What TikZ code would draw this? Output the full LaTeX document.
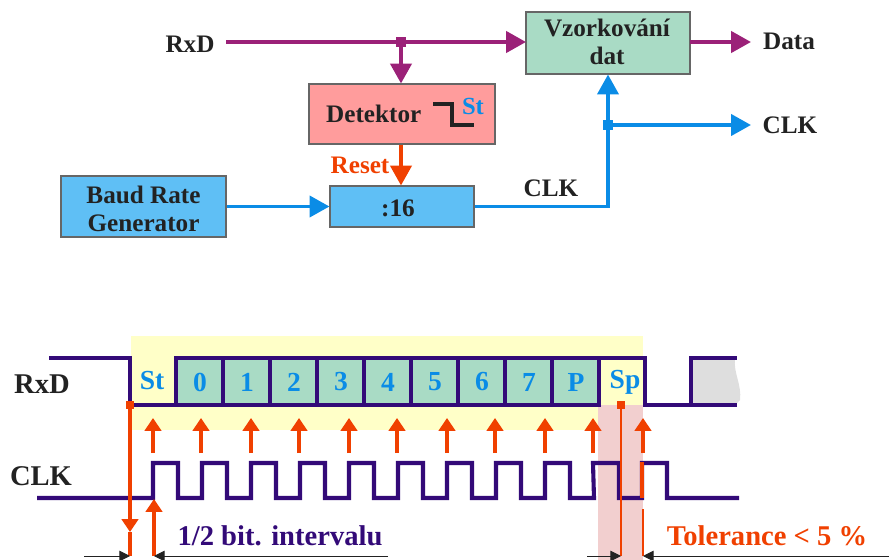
\documentclass[tikz,border=0pt]{standalone}
\usepackage{fontspec}
\setmainfont{Liberation Serif}
\usetikzlibrary{arrows.meta}
\definecolor{purpl}{HTML}{9B2178}
\definecolor{blu}{HTML}{0A8CE6}
\definecolor{orng}{HTML}{F04000}
\definecolor{wave}{HTML}{330A78}
\definecolor{teal1}{HTML}{A9DBC5}
\definecolor{pink1}{HTML}{FF9C9C}
\definecolor{sky1}{HTML}{5FBFF5}
\definecolor{yell}{HTML}{FFFFC8}
\definecolor{rose1}{HTML}{F2CFCF}
\definecolor{ink}{HTML}{222222}
\tikzset{
    block/.style={draw=black!60,line width=0.9pt,inner sep=0pt},
    lbl/.style={inner sep=0pt,align=center,font=\fontsize{21.5}{24}\selectfont\bfseries,text=ink},
    biglbl/.style={inner sep=0pt,font=\fontsize{24.4}{28}\selectfont\bfseries,text=ink},
    bitlbl/.style={inner sep=0pt,font=\fontsize{23.5}{26}\selectfont\bfseries,text=blu},
    sig/.style={line width=3.2pt,-{Triangle[length=17pt,width=18pt]}},
    junc/.style={inner sep=0pt,minimum size=8.5pt},
    tick/.style={line width=2.7pt,draw=orng,-{Triangle[length=11pt,width=14pt]}},
    wavel/.style={line width=3.5pt,draw=wave,line join=miter},
    dim/.style={line width=0.8pt,draw=ink,-{Triangle[length=9pt,width=9pt]}}
}
\begin{document}
\begin{tikzpicture}[x=0.03cm,y=-0.03cm]
    \useasboundingbox (0,0) rectangle (889,560);
    % top blocks
    \node[block,fill=teal1,minimum width=4.92cm,minimum height=1.86cm] (sample) at (608,43) {};
    \node[block,fill=pink1,minimum width=5.58cm,minimum height=1.8cm] (detect) at (402,114) {};
    \node[block,fill=sky1,minimum width=4.32cm,minimum height=1.23cm] (div) at (402,206.5) {};
    \node[block,fill=sky1,minimum width=4.95cm,minimum height=1.83cm] (baud) at (143.5,206.5) {};
    \node[lbl] (samplelbl) at (607,42) {Vzorkování\\dat};
    \node[lbl,anchor=west] (detlbl) at (326,114) {Detektor};
    \node[bitlbl,font=\fontsize{21}{24}\selectfont\bfseries] (stlbl) at (473,106) {St};
    \node[lbl] (divlbl) at (398,208) {:16};
    \node[lbl] (baudlbl) at (143.5,208.5) {Baud Rate\\Generator};
    \draw[line width=3.1pt,draw=ink] (433,104) -- (452,104) -- (452,125) -- (474,125);
    \node[lbl] (rxd) at (190,44) {RxD};
    \node[lbl] (data) at (789,41) {Data};
    \node[lbl] (clkout) at (790,125) {CLK};
    \node[lbl] (clkmid) at (551,188) {CLK};
    \node[lbl,text=orng] (reset) at (360,165) {Reset};
    \coordinate (rxdstart) at (226,42);
    \coordinate (samplein) at (526,42);
    \coordinate (dataout) at (751,42);
    \coordinate (sampleout) at (690,42);
    \coordinate (clkend) at (751,125);
    \node[junc,fill=purpl] (jrxd) at (401,42) {};
    \node[junc,fill=blu] (jclk) at (608,125) {};
    \draw[sig,line width=3.4pt,draw=purpl] (rxdstart) -- (samplein);
    \draw[sig,line width=3.4pt,draw=purpl] (sampleout) -- (dataout);
    \draw[sig,line width=3.4pt,draw=purpl] (jrxd.center) -- (detect.north -| jrxd);
    \draw[sig,line width=3.4pt,draw=orng] (detect.south -| jrxd) -- (div.north -| jrxd);
    \draw[sig,draw=blu] (baud.east) -- (div.west);
    \draw[sig,draw=blu] (div.east) -| (sample.south -| jclk);
    \draw[sig,draw=blu] (jclk.center) -- (clkend);
    % timing
    \fill[yell] (131,336) rectangle (643,430);
    \fill[rose1] (598,405) rectangle (643,560);
    \fill[teal1] (176,358) rectangle (599,405);
    \fill[black!13] (691,358) -- (735,358) .. controls (733,372) and (742,385) .. (740,400) -- (735,405) -- (691,405) -- cycle;
    \node[biglbl] (rxdb) at (42,384) {RxD};
    \node[biglbl] (clkb) at (41,476) {CLK};
    \node[bitlbl] (st) at (152,381) {St};
    \node[bitlbl] (sp) at (625,382) {Sp};
    \foreach \n/\t in {0/0,1/1,2/2,3/3,4/4,5/5,6/6,7/7,8/P}{
        \node[bitlbl] (bit\n) at (200+47*\n,382) {\t};
    }
    \foreach \n in {1,...,8}{
        \draw[wavel] (176+47*\n,358) -- (176+47*\n,405);
    }
    \draw[wavel] (49,358) -- (130,358) -- (130,405) -- (176,405) -- (176,358) -- (645,358) -- (645,405) -- (691,405) -- (691,358) -- (737,358);
    \draw[wavel] (176,405) -- (599,405) -- (599,358);
    \draw[wavel] (691,405) -- (737,405);
    \draw[wavel] (37,498) -- (153,498)
        \foreach \n in {0,...,8}{ -- (153+49*\n,463) -- (178+49*\n,463) -- (178+49*\n,498) -- (202+49*\n,498) }
        -- (593,463) -- (619,463) -- (619,498) -- (642,498) -- (642,463) -- (667,463) -- (667,498) -- (739,498);
    \draw[line width=3.8pt,draw=orng] (642,462) -- (642,498);
    \foreach \x [count=\i] in {153,201,251,299,349,397,447,495,545,593,643}{
        \coordinate (tl\i) at (\x,453);
        \coordinate (th\i) at (\x,418);
        \draw[tick] (tl\i) -- (th\i);
    }
    \node[junc,fill=orng,minimum size=7pt] (jstart) at (130,405) {};
    \node[junc,fill=orng,minimum size=7pt] (jstop) at (621,405) {};
    \coordinate (d1) at (130,556);
    \coordinate (d2) at (154,556);
    \coordinate (d3) at (621,556);
    \coordinate (d4) at (643,556);
    \coordinate (d4top) at (643,509);
    \coordinate (d1l) at (84,556);
    \coordinate (d2r) at (388,556);
    \coordinate (d3l) at (587,556);
    \coordinate (d4r) at (889,556);
    \coordinate (clkrise) at (154,499);
    \coordinate (headtip) at (130,532);
    \draw[tick] (jstart.center) -- (headtip);
    \draw[line width=2.7pt,draw=orng] (headtip) -- (d1);
    \draw[tick] (d2) -- (clkrise);
    \draw[line width=1.1pt,draw=orng] (jstop.center) -- (d3);
    \draw[line width=1.1pt,draw=orng] (d4top) -- (d4);
    \draw[dim] (d1l) -- (d1);
    \draw[dim] (d2r) -- (d2);
    \draw[dim] (d3l) -- (d3);
    \draw[dim] (d4r) -- (d4);
    \node[biglbl,text=wave] (half) at (280,536) {1/2 bit. intervalu};
    \node[biglbl,text=orng] (tol) at (767,536) {Tolerance < 5 \%};
\end{tikzpicture}
\end{document}
